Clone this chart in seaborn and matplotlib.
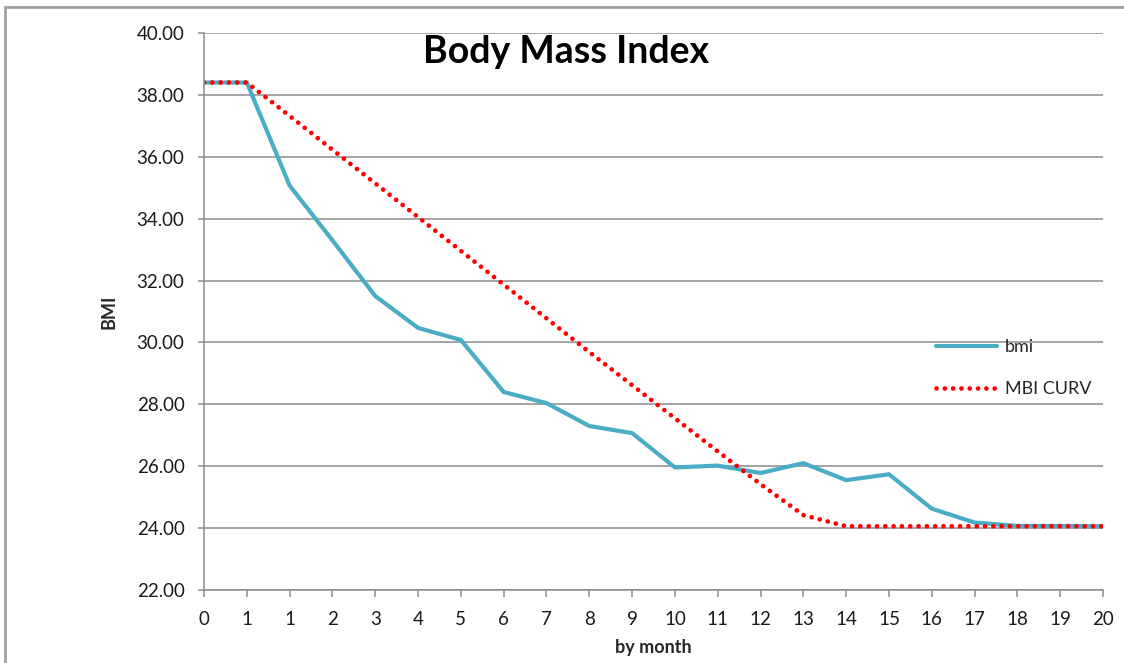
import numpy as np
import pandas as pd
import matplotlib
matplotlib.use("Agg")
import matplotlib.pyplot as plt
from matplotlib.lines import Line2D
import seaborn as sns

# x categories as they appear on the axis (month "1" appears twice)
month_labels = ["0", "1", "1", "2", "3", "4", "5", "6", "7", "8", "9", "10",
                "11", "12", "13", "14", "15", "16", "17", "18", "19", "20"]
bmi = [38.40, 38.40, 35.07, 33.30, 31.50, 30.47, 30.08, 28.40, 28.04, 27.30,
       27.07, 25.96, 26.02, 25.78, 26.10, 25.55, 25.74, 24.63, 24.18, 24.07,
       24.07, 24.06]
mbi_curv = [38.40, 38.40, 37.32, 36.23, 35.14, 34.05, 32.96, 31.87, 30.78, 29.69,
            28.62, 27.55, 26.48, 25.42, 24.42, 24.06, 24.06, 24.06, 24.06, 24.06,
            24.06, 24.06]
y_ticks = np.arange(22, 40.01, 2)

df = pd.DataFrame({"pos": range(len(month_labels)), "bmi": bmi, "mbi": mbi_curv})

sns.set_theme(style="white")
plt.rcParams["font.family"] = ["Lato", "DejaVu Sans"]

GRID = "#8c8c8c"
TEAL = "#4bacc6"
DOTS = (0, (0.01, 1.75))

fig = plt.figure(figsize=(11.24, 6.63), dpi=100)
ax = fig.add_axes([204 / 1124, 1 - 590 / 663, (1103 - 204) / 1124, (590 - 33) / 663])

sns.lineplot(data=df, x="pos", y="bmi", ax=ax, color=TEAL, linewidth=3,
             label="bmi", solid_joinstyle="miter")
sns.lineplot(data=df, x="pos", y="mbi", ax=ax, color="#ff0000", linewidth=3.4,
             linestyle=DOTS, dash_capstyle="round", label="MBI CURV")

ax.set_xlim(0, len(month_labels) - 1)
ax.set_ylim(22, 40)
ax.set_xticks(range(len(month_labels)))
ax.set_xticklabels(month_labels)
ax.set_yticks(y_ticks)
ax.set_yticklabels([f"{v:.2f}" for v in y_ticks])

ax.yaxis.grid(True, color=GRID, linewidth=1.1)
ax.set_axisbelow(True)
for side in ["top", "right"]:
    ax.spines[side].set_visible(False)
for side in ["left", "bottom"]:
    ax.spines[side].set_color(GRID)
    ax.spines[side].set_linewidth(1.1)

ax.tick_params(axis="y", left=True, length=4, width=1.1, color=GRID, pad=10,
               labelsize=13.5, labelcolor="#1a1a1a")
ax.tick_params(axis="x", bottom=True, length=5, width=1.1, color=GRID, pad=10,
               labelsize=13.5, labelcolor="#1a1a1a")

ax.set_xlabel("by month", fontsize=13, fontweight="bold", labelpad=8)
ax.set_ylabel("BMI", fontsize=13, fontweight="bold", labelpad=14)

ax.get_legend().remove()
handles = [Line2D([], [], color=TEAL, linewidth=3),
           Line2D([], [], color="#ff0000", linewidth=3.4,
                  linestyle=DOTS, dash_capstyle="round")]
fig.legend(handles, ["bmi", "MBI CURV"], loc="upper left",
           bbox_to_anchor=(936 / 1124, 1 - 339 / 663), frameon=False,
           fontsize=13, handlelength=3.4, handletextpad=0.4,
           labelspacing=1.45, borderpad=0, borderaxespad=0)

fig.text(566 / 1124, 1 - 52 / 663, "Body Mass Index", fontsize=27,
         fontweight="bold", ha="center", va="center", color="black")

# chart border (cropped on right and bottom)
fig.add_artist(Line2D([5 / 1124, 5 / 1124], [0, 1 - 7 / 663],
                      transform=fig.transFigure, color="#a0a0a0", linewidth=2))
fig.add_artist(Line2D([5 / 1124, 1], [1 - 7 / 663, 1 - 7 / 663],
                      transform=fig.transFigure, color="#a0a0a0", linewidth=2))

fig.savefig("out.png", dpi=100)
